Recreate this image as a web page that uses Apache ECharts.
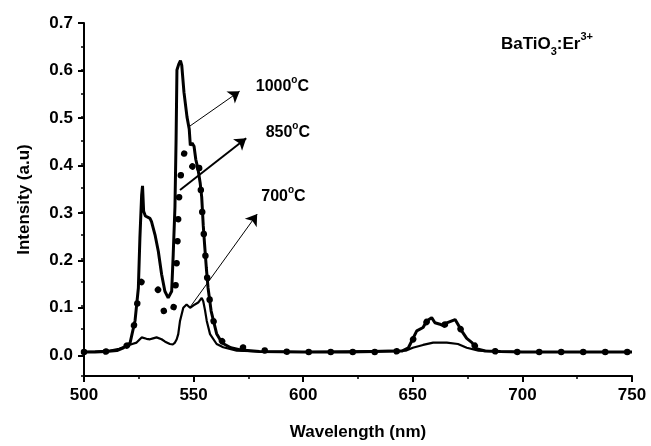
<!DOCTYPE html>
<html>
<head>
<meta charset="utf-8">
<script src="https://cdn.jsdelivr.net/npm/echarts@6/dist/echarts.min.js"></script>
<style>
html, body { margin: 0; padding: 0; background: #fff; }
#chart { width: 651px; height: 446px; }
</style>
</head>
<body>
<div id="chart"></div>
<script>
// Emission spectra of BaTiO3:Er3+ annealed at three temperatures
const wl1000 = [500,505,510,515,518,521,523.3,524.8,525.5,526.3,526.7,527.2,528,530.1,530.8,532.4,533.9,535.4,536.9,538.4,540,540.7,541.5,542,542.4,543.2,544,544.6,545.6,547,548,548.5,549.3,550.2,551,552,553,553.7,554.4,555,555.8,556.6,558,560.5,563,567,572,580,600,620,645,648,651.8,654.7,656.3,658.6,660.1,662.4,663.8,665.5,669.3,672.3,674.6,677,679,683,690,700,720,750];
const int1000 = [0.001,0.001,0.002,0.004,0.01,0.02,0.068,0.137,0.243,0.335,0.354,0.3,0.29,0.285,0.278,0.25,0.215,0.166,0.13,0.116,0.13,0.208,0.31,0.45,0.6,0.612,0.62,0.61,0.553,0.5,0.475,0.44,0.445,0.438,0.41,0.39,0.36,0.33,0.27,0.23,0.18,0.137,0.088,0.04,0.02,0.01,0.005,0.002,0.001,0.001,0.003,0.01,0.046,0.053,0.067,0.074,0.063,0.06,0.057,0.063,0.07,0.046,0.03,0.021,0.008,0.003,0.002,0.001,0.001,0.001];

const wl850 = [500,505,510,515,518,520,521,522,523,524,525,526,527,528,530,532,534,535.5,536.6,538,539.5,541,541.8,542.3,542.7,543,543.5,544.3,545,546,547,548,549,550,551,552,552.9,553.5,554.2,555,555.8,556.6,558,560.5,563,566,570,575,580,590,600,620,640,645,648,651,654,656.5,658.5,660,662,664,666,669.5,672,675,677,679,682,690,700,720,750];
const int850 = [0.001,0.001,0.002,0.005,0.01,0.016,0.022,0.04,0.062,0.095,0.125,0.148,0.156,0.155,0.148,0.142,0.132,0.105,0.085,0.072,0.078,0.098,0.144,0.194,0.242,0.289,0.34,0.384,0.41,0.428,0.42,0.4,0.393,0.398,0.41,0.415,0.377,0.33,0.28,0.23,0.18,0.137,0.088,0.04,0.024,0.017,0.013,0.008,0.005,0.002,0.001,0.001,0.001,0.004,0.01,0.035,0.052,0.066,0.073,0.066,0.06,0.058,0.062,0.069,0.048,0.03,0.022,0.01,0.004,0.002,0.001,0.001,0.001];

const wl700 = [500,505,512,516,519.5,522,524,526.3,527,528.5,530.1,531.5,533.1,535.4,537,539.2,540.5,541.5,542.3,543,543.8,545.3,546.1,546.8,548.4,550.6,552.1,553.7,554.4,555.2,556,557.5,560.5,563.5,569.7,580,600,647,650,654.7,659.3,665.5,670.6,674.6,680,690,700,750];
const int700 = [0.001,0.002,0.004,0.008,0.014,0.018,0.021,0.032,0.033,0.029,0.028,0.03,0.032,0.028,0.023,0.018,0.017,0.021,0.028,0.039,0.067,0.095,0.099,0.102,0.095,0.102,0.106,0.116,0.109,0.09,0.067,0.039,0.018,0.011,0.004,0.002,0.001,0.004,0.01,0.016,0.021,0.021,0.018,0.01,0.004,0.002,0.001,0.001];

const xTicks = [500, 550, 600, 650, 700, 750];
const tempLabels = ['1000', '850', '700'];
// arrow start / end and label anchor, in data units
const arrowFrom = [[548, 0.48], [543.8, 0.345], [548.8, 0.099]];
const arrowTo = [[571, 0.555], [574, 0.455], [579, 0.294]];
const labelAt = [[590.5, 0.565], [593, 0.467], [591, 0.332]];

const font = '"Liberation Sans", Arial, sans-serif';
const pairs = (xs, ys) => xs.map((x, i) => [x, ys[i]]);

const chart = echarts.init(document.getElementById('chart'), null, {renderer: 'canvas'});

const tempRich = {
    b: {fontFamily: font, fontWeight: 'bold', fontSize: 16, color: '#000', lineHeight: 22, verticalAlign: 'middle'},
    sup: {fontFamily: font, fontWeight: 'bold', fontSize: 10, color: '#000', lineHeight: 22, verticalAlign: 'top'}
};

const option = {
    animation: false,
    backgroundColor: '#fff',
    title: {
        left: 496,
        top: 26,
        text: '{b|BaTiO}{sub|3}{b|:Er}{sup|3+}',
        textStyle: {
            rich: {
                b: {fontFamily: font, fontWeight: 'bold', fontSize: 17, color: '#000', lineHeight: 26, verticalAlign: 'middle'},
                sub: {fontFamily: font, fontWeight: 'bold', fontSize: 11, color: '#000', lineHeight: 26, verticalAlign: 'bottom'},
                sup: {fontFamily: font, fontWeight: 'bold', fontSize: 11, color: '#000', lineHeight: 26, verticalAlign: 'top'}
            }
        }
    },
    grid: [
        {left: 84, right: 19, top: 23, bottom: 67},
        // second grid only carries the 0.1 major ticks/labels of the y axis
        {left: 84, right: 19, top: 23, bottom: 90.73}
    ],
    xAxis: [
        {
            gridIndex: 0,
            type: 'value',
            min: xTicks[0],
            max: xTicks[xTicks.length - 1],
            interval: 50,
            name: 'Wavelength (nm)',
            nameLocation: 'middle',
            nameGap: 48,
            nameTextStyle: {fontFamily: font, fontWeight: 'bold', fontSize: 17, color: '#000'},
            axisLine: {show: true, onZero: false, lineStyle: {color: '#000', width: 2}},
            axisTick: {show: true, inside: false, length: 6, lineStyle: {color: '#000', width: 2}},
            minorTick: {show: true, splitNumber: 2, length: 3, lineStyle: {color: '#000', width: 1.5}},
            axisLabel: {fontFamily: font, fontWeight: 'bold', fontSize: 17, color: '#000', margin: 11},
            splitLine: {show: false}
        },
        {gridIndex: 1, type: 'value', min: 500, max: 750, show: false}
    ],
    yAxis: [
        {
            gridIndex: 0,
            type: 'value',
            min: -0.05,
            max: 0.7,
            interval: 0.05,
            name: 'Intensity (a.u)',
            nameLocation: 'middle',
            nameGap: 51,
            nameTextStyle: {fontFamily: font, fontWeight: 'bold', fontSize: 17, color: '#000'},
            axisLine: {show: true, onZero: false, lineStyle: {color: '#000', width: 2}},
            axisTick: {show: true, inside: false, length: 3, lineStyle: {color: '#000', width: 1.5}},
            axisLabel: {show: false},
            splitLine: {show: false}
        },
        {
            gridIndex: 1,
            type: 'value',
            min: 0,
            max: 0.7,
            interval: 0.1,
            axisLine: {show: false},
            axisTick: {show: true, inside: false, length: 6, lineStyle: {color: '#000', width: 2}},
            axisLabel: {
                fontFamily: font, fontWeight: 'bold', fontSize: 17, color: '#000', margin: 11,
                formatter: v => v.toFixed(1)
            },
            splitLine: {show: false}
        }
    ],
    series: [
        {
            name: '700',
            type: 'line',
            data: pairs(wl700, int700),
            showSymbol: false,
            lineStyle: {color: '#000', width: 2.2}
        },
        {
            name: '850',
            type: 'line',
            data: pairs(wl850, int850),
            showSymbol: false,
            lineStyle: {color: '#000', width: 6.5, type: [0.01, 22], cap: 'round'}
        },
        {
            name: '1000',
            type: 'line',
            data: pairs(wl1000, int1000),
            showSymbol: false,
            lineStyle: {color: '#000', width: 3},
            markLine: {
                silent: true,
                symbol: ['none', 'arrow'],
                symbolSize: 11,
                label: {show: false},
                itemStyle: {color: '#000'},
                lineStyle: {color: '#000', width: 1, type: 'solid'},
                data: arrowFrom.map((p, i) => [
                    {coord: p, lineStyle: {width: i === 1 ? 2 : 1}},
                    {coord: arrowTo[i]}
                ])
            },
            markPoint: {
                silent: true,
                symbol: 'circle',
                symbolSize: 0,
                label: {
                    show: true,
                    position: 'inside',
                    formatter: p => '{b|' + p.name + '}{sup|o}{b|C}',
                    rich: tempRich
                },
                data: tempLabels.map((t, i) => ({name: t, coord: labelAt[i]}))
            }
        }
    ]
};

chart.setOption(option);
</script>
</body>
</html>
